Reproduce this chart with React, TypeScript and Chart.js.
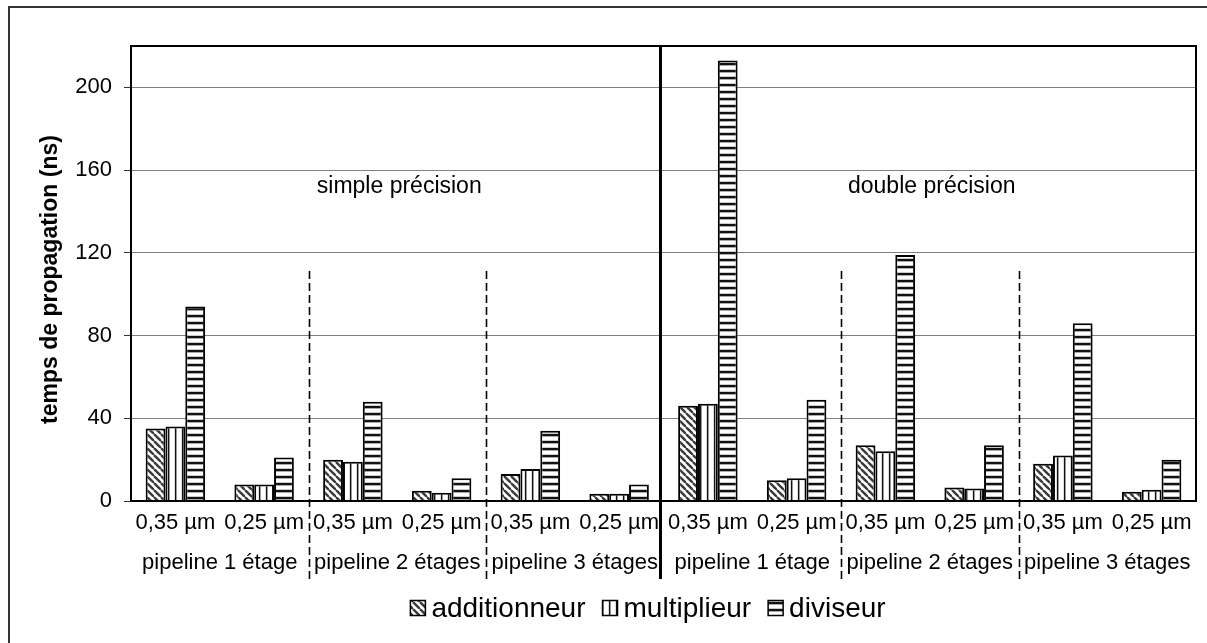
import React, { useEffect, useRef } from "react";
import { Chart, registerables } from "chart.js";

Chart.register(...registerables);

const categories = [
  "0,35 µm", "0,25 µm", "0,35 µm", "0,25 µm", "0,35 µm", "0,25 µm",
  "0,35 µm", "0,25 µm", "0,35 µm", "0,25 µm", "0,35 µm", "0,25 µm",
];
const groups = [
  "pipeline 1 étage", "pipeline 2 étages", "pipeline 3 étages",
  "pipeline 1 étage", "pipeline 2 étages", "pipeline 3 étages",
];
const precisions = ["simple précision", "double précision"];
const seriesNames = ["additionneur", "multiplieur", "diviseur"];
const additionneur = [35, 8, 20, 5, 13, 3.5, 46, 10, 27, 6.5, 18, 4.5];
const multiplieur = [36, 8, 19, 4, 15.5, 3.5, 47, 11, 24, 6, 22, 5.5];
const diviseur = [94, 21, 48, 11, 34, 8, 213, 49, 119, 27, 86, 20];
const yTickValues = [0, 40, 80, 120, 160, 200];
const yMax = 220;
const yTitle = "temps de propagation (ns)";

const FONT = "'Liberation Sans', Arial, sans-serif";

function makePattern(kind: string): CanvasPattern | string {
  const c = document.createElement("canvas");
  const ctx = c.getContext("2d")!;
  if (kind === "diag") {
    const s = 7;
    c.width = s; c.height = s;
    ctx.fillStyle = "#fff";
    ctx.fillRect(0, 0, s, s);
    ctx.strokeStyle = "#3a3a3a";
    ctx.lineWidth = 2.4;
    for (const o of [-s, 0, s]) {
      ctx.beginPath();
      ctx.moveTo(o, 0);
      ctx.lineTo(o + s, s);
      ctx.stroke();
    }
  } else if (kind === "vert") {
    c.width = 7; c.height = 1;
    ctx.fillStyle = "#fff";
    ctx.fillRect(0, 0, 7, 1);
    ctx.fillStyle = "#111";
    ctx.fillRect(0, 0, 1, 1);
    ctx.fillStyle = "#999";
    ctx.fillRect(1, 0, 1, 1);
    ctx.fillStyle = "#ddd";
    ctx.fillRect(6, 0, 1, 1);
  } else {
    c.width = 1; c.height = 7;
    ctx.fillStyle = "#fff";
    ctx.fillRect(0, 0, 1, 7);
    ctx.fillStyle = "#111";
    ctx.fillRect(0, 0, 1, 2);
    ctx.fillStyle = "#aaa";
    ctx.fillRect(0, 2, 1, 1);
    ctx.fillStyle = "#ccc";
    ctx.fillRect(0, 6, 1, 1);
  }
  return ctx.createPattern(c, "repeat") || "#888";
}

export default function App() {
  const ref = useRef<HTMLCanvasElement>(null);

  useEffect(() => {
    const canvas = ref.current!;
    const patterns = [makePattern("diag"), makePattern("vert"), makePattern("horiz")];
    const seriesValues = [additionneur, multiplieur, diviseur];

    const overlay = {
      id: "overlay",
      beforeDraw(chart: any) {
        const ctx = chart.ctx;
        ctx.save();
        ctx.fillStyle = "#fff";
        ctx.fillRect(0, 0, chart.width, chart.height);
        ctx.strokeStyle = "#333";
        ctx.lineWidth = 2;
        ctx.beginPath();
        ctx.moveTo(9, chart.height + 5);
        ctx.lineTo(9, 7);
        ctx.lineTo(chart.width + 5, 7);
        ctx.stroke();
        ctx.restore();
      },
      afterDraw(chart: any) {
        const ctx = chart.ctx;
        const area = chart.chartArea;
        const xs = chart.scales.x;
        const n = categories.length;
        const px = (i: number) => xs.getPixelForValue(i);
        const boundary = (i: number) => (px(i - 1) + px(i)) / 2;
        ctx.save();
        // plot frame
        ctx.strokeStyle = "#000";
        ctx.lineWidth = 2;
        ctx.strokeRect(area.left, area.top, area.right - area.left, area.bottom - area.top);

        // category labels
        ctx.fillStyle = "#000";
        ctx.textAlign = "center";
        ctx.textBaseline = "middle";
        ctx.font = `22px ${FONT}`;
        for (let i = 0; i < n; i++) ctx.fillText(categories[i], px(i), area.bottom + 22);
        for (let g = 0; g < groups.length; g++) {
          const cx = (px(g * 2) + px(g * 2 + 1)) / 2;
          ctx.fillText(groups[g], cx, area.bottom + 62);
        }
        // precision labels
        ctx.font = `23px ${FONT}`;
        const half = n / 2;
        for (let p = 0; p < precisions.length; p++) {
          const l = p === 0 ? area.left : boundary(half);
          const r = p === 0 ? boundary(half) : area.right;
          ctx.fillText(precisions[p], (l + r) / 2 + 2, 187);
        }
        // dashed separators
        ctx.setLineDash([8, 4]);
        ctx.lineWidth = 1.6;
        for (let i = 2; i < n; i += 2) {
          if (i === half) continue;
          const x = Math.round(boundary(i)) + 0.5;
          ctx.beginPath();
          ctx.moveTo(x, 271);
          ctx.lineTo(x, area.bottom + 78);
          ctx.stroke();
        }
        ctx.setLineDash([]);
        ctx.lineWidth = 3;
        const cxm = boundary(half) - 3;
        ctx.beginPath();
        ctx.moveTo(cxm, area.top);
        ctx.lineTo(cxm, area.bottom + 78);
        ctx.stroke();

        // y title
        ctx.save();
        ctx.translate(51, (area.top + area.bottom) / 2 + 6);
        ctx.rotate(-Math.PI / 2);
        ctx.font = `bold 23px ${FONT}`;
        ctx.fillText(yTitle, 0, 0);
        ctx.restore();

        // legend
        ctx.font = `28px ${FONT}`;
        ctx.textAlign = "left";
        const box = 15;
        const gapBoxText = 6;
        const gapItems = 17;
        const widths = seriesNames.map((s) => ctx.measureText(s).width);
        const total = widths.reduce((a, b) => a + b, 0) + seriesNames.length * (box + gapBoxText) + gapItems * (seriesNames.length - 1);
        let x = 648 - total / 2;
        const ly = 608;
        for (let s = 0; s < seriesNames.length; s++) {
          ctx.fillStyle = patterns[s] as any;
          ctx.fillRect(x, ly - box / 2, box, box);
          ctx.strokeStyle = "#000";
          ctx.lineWidth = 1.5;
          ctx.strokeRect(x, ly - box / 2, box, box);
          ctx.fillStyle = "#000";
          ctx.fillText(seriesNames[s], x + box + gapBoxText, ly + 1);
          x += box + gapBoxText + widths[s] + gapItems;
        }
        ctx.restore();
      },
    };

    const chart = new Chart(canvas, {
      type: "bar",
      data: {
        labels: categories,
        datasets: seriesNames.map((name, s) => ({
          label: name,
          data: seriesValues[s],
          backgroundColor: patterns[s] as any,
          borderColor: "#000",
          borderWidth: 2,
          categoryPercentage: 0.67,
          barPercentage: 1,
        })),
      },
      options: {
        responsive: false,
        animation: false,
        events: [],
        layout: { padding: { left: 0, top: 46, right: 11, bottom: 142 } },
        plugins: { legend: { display: false }, tooltip: { enabled: false } },
        scales: {
          x: { display: false },
          y: {
            min: 0,
            max: yMax,
            afterFit: (scale: any) => { scale.width = 131; },
            afterBuildTicks: (scale: any) => {
              scale.ticks = yTickValues.map((v) => ({ value: v }));
            },
            ticks: {
              color: "#000",
              padding: 12,
              font: { family: FONT, size: 22 },
            },
            grid: {
              color: "#808080",
              lineWidth: 1,
              tickLength: 7,
              tickColor: "#333",
            },
            border: { display: true, color: "#000", width: 2 },
          },
        },
      },
      plugins: [overlay],
    });
    return () => chart.destroy();
  }, []);

  return (
    <div style={{ position: "fixed", left: 0, top: 0, width: 1207, height: 643, background: "#fff" }}>
      <canvas ref={ref} width={1207} height={643} style={{ display: "block" }} />
    </div>
  );
}
